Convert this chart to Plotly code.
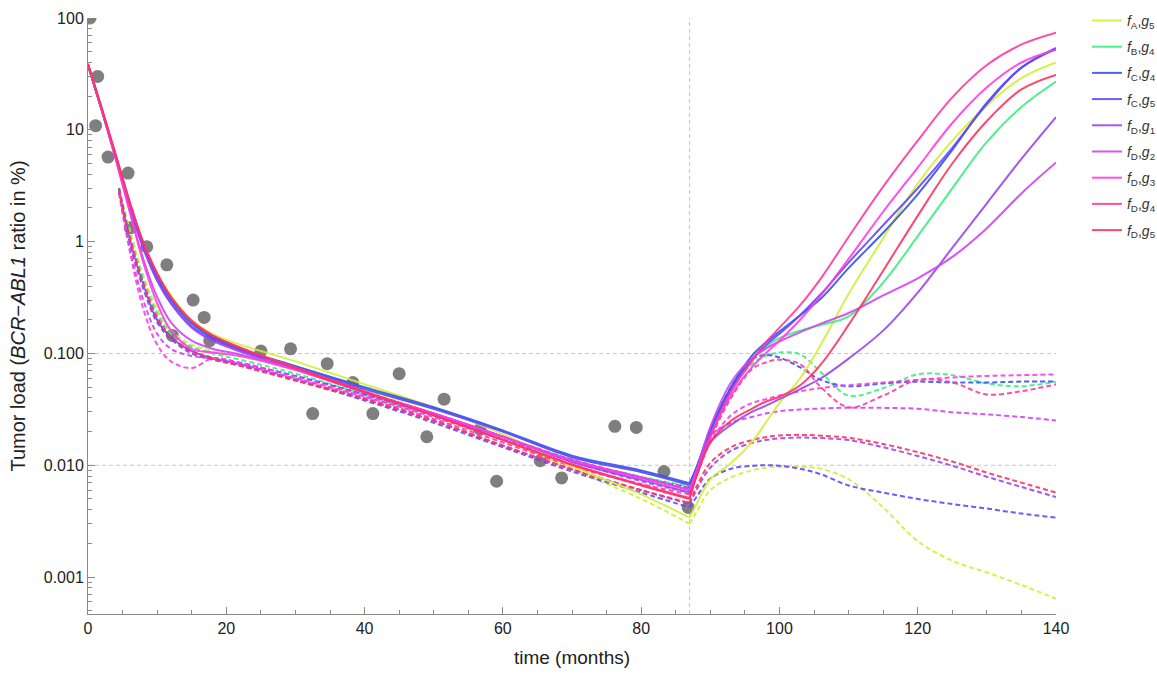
import plotly.graph_objects as go

# ---------------- data ----------------
obs_t = [0.3, 1.4, 1.1, 2.9, 5.8, 6.1, 8.5, 11.4, 15.2, 16.8, 12.2, 17.6, 25.0, 29.3,
         34.6, 32.5, 38.3, 41.2, 45.0, 49.0, 51.5, 56.7, 59.1, 65.4, 68.5, 76.2, 79.3,
         83.3, 86.8]
obs_v = [100, 30, 10.9, 5.7, 4.1, 1.33, 0.90, 0.62, 0.30, 0.21, 0.145, 0.13, 0.105, 0.11,
         0.081, 0.029, 0.055, 0.029, 0.066, 0.018, 0.039, 0.021, 0.0072, 0.011, 0.0077,
         0.0223, 0.0218, 0.0088, 0.0042]

T1_SOLID = [0, 2, 4, 6, 8, 10, 12, 15, 18, 22, 30, 40, 50, 60, 70, 80, 87]
T1_DASH = [4.5, 6, 8, 10, 12, 15, 18, 22, 30, 40, 50, 60, 70, 80, 87]
T2 = [87, 88, 90, 93, 96, 98, 100, 103, 106, 110, 115, 120, 125, 130, 135, 140]

models = ["fA_g5", "fB_g4", "fC_g4", "fC_g5", "fD_g1", "fD_g2", "fD_g3", "fD_g4", "fD_g5"]
labels = {
    "fA_g5": "<i>f</i><sub>A</sub>,<i>g</i><sub>5</sub>",
    "fB_g4": "<i>f</i><sub>B</sub>,<i>g</i><sub>4</sub>",
    "fC_g4": "<i>f</i><sub>C</sub>,<i>g</i><sub>4</sub>",
    "fC_g5": "<i>f</i><sub>C</sub>,<i>g</i><sub>5</sub>",
    "fD_g1": "<i>f</i><sub>D</sub>,<i>g</i><sub>1</sub>",
    "fD_g2": "<i>f</i><sub>D</sub>,<i>g</i><sub>2</sub>",
    "fD_g3": "<i>f</i><sub>D</sub>,<i>g</i><sub>3</sub>",
    "fD_g4": "<i>f</i><sub>D</sub>,<i>g</i><sub>4</sub>",
    "fD_g5": "<i>f</i><sub>D</sub>,<i>g</i><sub>5</sub>",
}
colors = {
    "fA_g5": "#d0f03a", "fB_g4": "#3cee80", "fC_g4": "#3355ee", "fC_g5": "#6a44ff",
    "fD_g1": "#9b45f0", "fD_g2": "#d045f5", "fD_g3": "#ff3ce6", "fD_g4": "#ff3aa0",
    "fD_g5": "#ff3360",
}

# solid curves, first phase (T1_SOLID)
solid1 = {
    "fA_g5": [38, 15, 5.8, 2.2, 0.97, 0.52, 0.33, 0.2, 0.15, 0.12, 0.085, 0.053, 0.033, 0.019, 0.0098, 0.0055, 0.0034],
    "fB_g4": [38, 15, 5.8, 2.2, 0.95, 0.5, 0.31, 0.19, 0.14, 0.11, 0.077, 0.049, 0.032, 0.02, 0.0118, 0.0087, 0.0066],
    "fC_g4": [38, 15, 5.8, 2.2, 0.93, 0.48, 0.3, 0.185, 0.14, 0.11, 0.077, 0.05, 0.033, 0.0205, 0.0122, 0.009, 0.0069],
    "fC_g5": [38, 15, 5.7, 2.1, 0.88, 0.45, 0.28, 0.175, 0.135, 0.107, 0.075, 0.048, 0.032, 0.02, 0.0118, 0.0087, 0.0067],
    "fD_g1": [38, 15, 5.7, 2.1, 0.88, 0.45, 0.28, 0.17, 0.13, 0.104, 0.072, 0.045, 0.029, 0.018, 0.0107, 0.0074, 0.0057],
    "fD_g2": [38, 15, 5.5, 1.9, 0.7, 0.32, 0.19, 0.13, 0.11, 0.098, 0.072, 0.045, 0.029, 0.018, 0.011, 0.0077, 0.006],
    "fD_g3": [38, 15, 5.5, 1.9, 0.65, 0.28, 0.16, 0.11, 0.102, 0.095, 0.071, 0.045, 0.029, 0.018, 0.011, 0.0078, 0.006],
    "fD_g4": [39, 15.5, 6, 2.3, 0.98, 0.52, 0.32, 0.195, 0.145, 0.113, 0.075, 0.046, 0.028, 0.017, 0.0102, 0.0067, 0.0051],
    "fD_g5": [39, 15.5, 6, 2.3, 0.98, 0.52, 0.32, 0.195, 0.145, 0.112, 0.074, 0.045, 0.028, 0.0168, 0.0101, 0.0066, 0.005],
}
# dashed curves, first phase (T1_DASH)
dash1 = {
    "fA_g5": [3.0, 1.3, 0.5, 0.25, 0.16, 0.12, 0.105, 0.095, 0.072, 0.047, 0.029, 0.017, 0.0092, 0.005, 0.003],
    "fB_g4": [3.0, 1.2, 0.46, 0.23, 0.15, 0.115, 0.1, 0.088, 0.066, 0.043, 0.028, 0.018, 0.0112, 0.0079, 0.0065],
    "fC_g4": [3.0, 1.1, 0.42, 0.2, 0.14, 0.105, 0.092, 0.082, 0.063, 0.043, 0.028, 0.018, 0.0112, 0.0078, 0.0063],
    "fC_g5": [2.8, 1.0, 0.38, 0.19, 0.135, 0.1, 0.088, 0.078, 0.058, 0.038, 0.024, 0.0145, 0.0088, 0.0057, 0.0042],
    "fD_g1": [2.8, 1.05, 0.4, 0.2, 0.14, 0.105, 0.09, 0.08, 0.059, 0.039, 0.025, 0.015, 0.0092, 0.006, 0.0045],
    "fD_g2": [2.7, 0.9, 0.3, 0.15, 0.11, 0.095, 0.09, 0.08, 0.06, 0.041, 0.027, 0.017, 0.0108, 0.0072, 0.0057],
    "fD_g3": [2.7, 0.85, 0.25, 0.12, 0.085, 0.074, 0.09, 0.083, 0.062, 0.042, 0.028, 0.018, 0.0112, 0.0078, 0.0062],
    "fD_g4": [2.9, 1.1, 0.42, 0.21, 0.14, 0.105, 0.09, 0.078, 0.058, 0.04, 0.026, 0.016, 0.0098, 0.0068, 0.0055],
    "fD_g5": [2.9, 1.1, 0.42, 0.21, 0.14, 0.105, 0.09, 0.078, 0.057, 0.039, 0.025, 0.015, 0.0092, 0.006, 0.0046],
}
# solid curves, second phase (T2)
solid2 = {
    "fA_g5": [0.0034, 0.0045, 0.0075, 0.0105, 0.016, 0.024, 0.036, 0.06, 0.12, 0.34, 1.07, 3.3, 8.0, 16.5, 29, 40],
    "fB_g4": [0.0066, 0.0095, 0.02, 0.048, 0.088, 0.115, 0.137, 0.16, 0.18, 0.215, 0.43, 1.12, 3.0, 7.8, 16, 27],
    "fC_g4": [0.0069, 0.0095, 0.021, 0.05, 0.095, 0.125, 0.157, 0.22, 0.31, 0.58, 1.2, 2.65, 6.6, 17.5, 36, 53],
    "fC_g5": [0.0067, 0.0095, 0.02, 0.048, 0.088, 0.118, 0.15, 0.22, 0.34, 0.65, 1.4, 3.0, 6.9, 17, 36, 54],
    "fD_g1": [0.0057, 0.0085, 0.016, 0.023, 0.03, 0.034, 0.039, 0.048, 0.06, 0.09, 0.16, 0.35, 0.88, 2.2, 5.5, 13],
    "fD_g2": [0.006, 0.009, 0.022, 0.055, 0.09, 0.11, 0.128, 0.155, 0.185, 0.23, 0.33, 0.47, 0.73, 1.32, 2.7, 5.1],
    "fD_g3": [0.006, 0.0085, 0.018, 0.042, 0.075, 0.1, 0.13, 0.2, 0.33, 0.7, 1.85, 4.6, 11.5, 24, 40, 52],
    "fD_g4": [0.0051, 0.008, 0.018, 0.045, 0.085, 0.125, 0.17, 0.27, 0.47, 1.1, 3.1, 8.0, 19.5, 38, 58, 74],
    "fD_g5": [0.005, 0.008, 0.016, 0.025, 0.032, 0.037, 0.041, 0.052, 0.08, 0.18, 0.55, 1.7, 5.0, 12, 23, 31],
}
# dashed curves, second phase (T2)
dash2 = {
    "fA_g5": [0.003, 0.0038, 0.006, 0.0078, 0.009, 0.0095, 0.0097, 0.0097, 0.0093, 0.0075, 0.0042, 0.0021, 0.0014, 0.0011, 0.00085, 0.00064],
    "fB_g4": [0.0065, 0.0095, 0.02, 0.048, 0.08, 0.095, 0.102, 0.098, 0.068, 0.042, 0.049, 0.065, 0.064, 0.054, 0.051, 0.056],
    "fC_g4": [0.0063, 0.009, 0.02, 0.05, 0.088, 0.097, 0.092, 0.075, 0.058, 0.051, 0.054, 0.056, 0.055, 0.055, 0.056, 0.056],
    "fC_g5": [0.0042, 0.0052, 0.0076, 0.0093, 0.0099, 0.01, 0.0099, 0.0093, 0.0083, 0.0066, 0.0057, 0.005, 0.0045, 0.0041, 0.0037, 0.0034],
    "fD_g1": [0.0045, 0.006, 0.0095, 0.0135, 0.0158, 0.0168, 0.0174, 0.0177, 0.0175, 0.0168, 0.0145, 0.0121, 0.0099, 0.0079, 0.0064, 0.0052],
    "fD_g2": [0.0057, 0.008, 0.018, 0.024, 0.027, 0.029, 0.0305, 0.0315, 0.0322, 0.0327, 0.0326, 0.032, 0.0298, 0.0285, 0.027, 0.0252],
    "fD_g3": [0.0062, 0.008, 0.016, 0.028, 0.036, 0.039, 0.042, 0.046, 0.049, 0.052, 0.055, 0.058, 0.061, 0.063, 0.064, 0.065],
    "fD_g4": [0.0055, 0.008, 0.017, 0.04, 0.072, 0.083, 0.088, 0.08, 0.05, 0.033, 0.042, 0.058, 0.055, 0.043, 0.046, 0.053],
    "fD_g5": [0.0046, 0.0064, 0.0105, 0.0145, 0.0168, 0.0178, 0.0185, 0.0187, 0.0184, 0.0176, 0.0155, 0.0131, 0.0108, 0.0086, 0.007, 0.0057],
}

x_ticks = [0, 20, 40, 60, 80, 100, 120, 140]
y_ticks = [0.001, 0.01, 0.1, 1, 10, 100]
y_ticktext = ["0.001", "0.010", "0.100", "1", "10", "100"]
treatment_stop = 87

# ---------------- figure ----------------
FONT = "Liberation Sans, Arial, sans-serif"
fig = go.Figure()

fig.add_trace(go.Scatter(
    x=obs_t, y=obs_v, mode="markers", showlegend=False,
    marker=dict(size=13, color="#7f7f7f", line=dict(width=0)),
    hoverinfo="skip"))

DASH = "5px,3px"
for m in models:
    c = colors[m]
    fig.add_trace(go.Scatter(x=T1_DASH, y=dash1[m], mode="lines", legendgroup=m,
                             showlegend=False, opacity=0.9,
                             line=dict(color=c, width=2, dash=DASH, shape="spline")))
    fig.add_trace(go.Scatter(x=T2, y=dash2[m], mode="lines", legendgroup=m,
                             showlegend=False, opacity=0.9,
                             line=dict(color=c, width=2, dash=DASH, shape="spline")))
for m in models:
    c = colors[m]
    fig.add_trace(go.Scatter(x=T1_SOLID, y=solid1[m], mode="lines", legendgroup=m,
                             name=labels[m], showlegend=True, opacity=0.9,
                             line=dict(color=c, width=2, shape="spline")))
    fig.add_trace(go.Scatter(x=T2, y=solid2[m], mode="lines", legendgroup=m,
                             showlegend=False, opacity=0.9,
                             line=dict(color=c, width=2, shape="spline")))

minor_y = [k * 10 ** e for e in range(-4, 2) for k in range(2, 10)]
minor_y = [v for v in minor_y if 0.00046 < v < 100]

grid_style = dict(color="#c8c8c8", width=1, dash="4px,3px")
fig.add_shape(type="line", xref="paper", x0=0, x1=1, yref="y", y0=0.1, y1=0.1,
              line=grid_style, layer="below")
fig.add_shape(type="line", xref="paper", x0=0, x1=1, yref="y", y0=0.01, y1=0.01,
              line=grid_style, layer="below")
fig.add_shape(type="line", xref="x", x0=treatment_stop, x1=treatment_stop, yref="paper",
              y0=0, y1=1, line=grid_style, layer="below")

axis_col = "#8a8a8a"
fig.update_layout(
    width=1157, height=673,
    margin=dict(l=88, r=101, t=18, b=59, autoexpand=False),
    paper_bgcolor="white", plot_bgcolor="white",
    font=dict(family=FONT, color="#222"),
    showlegend=True,
    legend=dict(x=1.032, y=1.022, xanchor="left", yanchor="top",
                font=dict(size=14, family=FONT, color="#333"),
                bgcolor="rgba(0,0,0,0)", tracegroupgap=5, itemwidth=30),
    xaxis=dict(range=[0, 140], tickmode="array", tickvals=x_ticks,
               ticks="inside", ticklen=7, tickcolor=axis_col, tickwidth=1,
               showline=True, linecolor=axis_col, linewidth=1, showgrid=False,
               zeroline=False, tickfont=dict(size=16, color="#222"),
               minor=dict(tickmode="linear", tick0=0, dtick=5, ticks="inside",
                          ticklen=4, tickcolor=axis_col, showgrid=False),
               title=dict(text="time (months)", font=dict(size=19, color="#222"),
                          standoff=14)),
    yaxis=dict(type="log", range=[-3.33, 2.0], tickmode="array", tickvals=y_ticks,
               ticktext=y_ticktext, ticks="inside", ticklen=7, tickcolor=axis_col,
               tickwidth=1, showline=True, linecolor=axis_col, linewidth=1,
               showgrid=False, zeroline=False, tickfont=dict(size=16, color="#222"),
               minor=dict(tickmode="array", tickvals=minor_y, ticks="inside",
                          ticklen=4, tickcolor=axis_col, showgrid=False),
               title=dict(text="Tumor load (<i>BCR</i>\u2212<i>ABL1</i> ratio in %)",
                          font=dict(size=20, color="#222"), standoff=12)),
)

fig.write_html("out.html", config={"displayModeBar": False},
               post_script="document.body.style.margin='0';")
